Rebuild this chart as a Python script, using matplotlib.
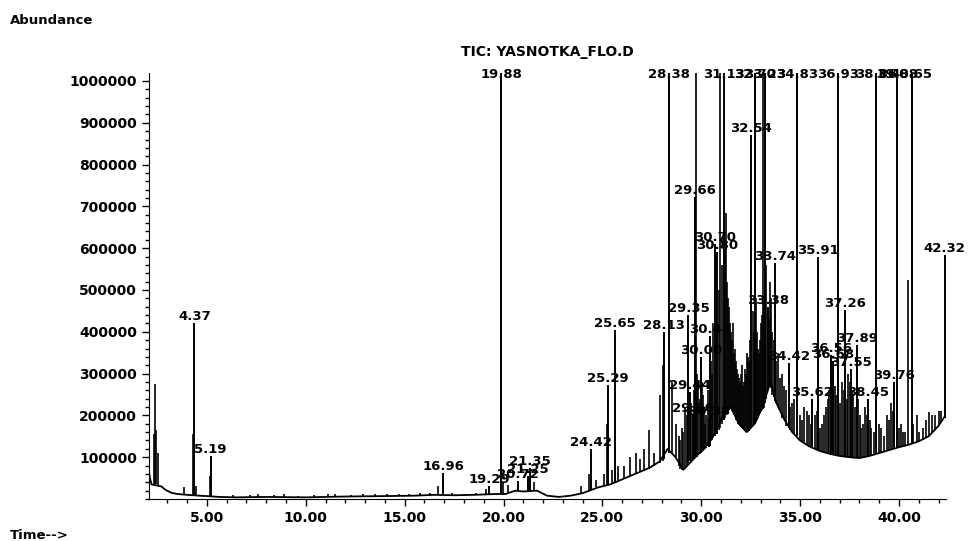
import numpy as np
import matplotlib.pyplot as plt
from matplotlib.ticker import MultipleLocator, FuncFormatter

# baseline / envelope of the TIC trace (time in min, abundance)
base_t = [2.07, 2.12, 2.2, 2.7, 2.9, 3.2, 3.5, 4.0, 4.6, 5.0, 5.6, 6.5, 8.0, 10.0,
          12.0, 14.0, 15.5, 16.5, 17.5, 18.5, 19.6, 20.1, 20.6, 21.0, 21.7, 22.2,
          22.8, 23.4, 24.0, 24.8, 25.4, 25.9, 26.4, 26.9, 27.4, 27.9, 28.3, 28.7,
          29.1, 29.5, 29.9, 30.3, 30.7, 31.1, 31.5, 31.9, 32.3, 32.7, 33.1, 33.5,
          33.8, 34.2, 34.6, 35.0, 35.5, 36.0, 36.5, 37.0, 37.5, 38.0, 38.5, 39.0,
          39.5, 40.0, 40.5, 41.0, 41.5, 42.0, 42.35]
base_y = [65000, 50000, 35000, 30000, 22000, 15000, 12000, 10000, 8000, 7000, 5000,
          4000, 5000, 4000, 6000, 7000, 8000, 10000, 9000, 10000, 12000, 12000,
          20000, 18000, 20000, 8000, 5000, 8000, 14000, 28000, 35000, 45000, 55000,
          65000, 75000, 90000, 120000, 100000, 70000, 90000, 110000, 130000, 160000,
          200000, 220000, 180000, 160000, 180000, 220000, 280000, 230000, 190000,
          160000, 140000, 125000, 115000, 108000, 103000, 100000, 98000, 103000,
          110000, 117000, 124000, 130000, 138000, 150000, 175000, 200000]

# labelled peaks: time, foot, apex (apex above 1e6 is off scale)
lab_t = [4.37, 5.19, 16.96, 19.29, 19.88, 20.72, 21.25, 21.35, 24.42, 25.29, 25.65,
         28.13, 28.38, 29.35, 29.44, 29.56, 29.66, 30.00, 30.38, 30.44, 30.70, 30.80,
         31.13, 32.54, 32.70, 33.23, 33.38, 33.74, 34.42, 34.83, 35.62, 35.91, 36.56,
         36.68, 36.93, 37.26, 37.55, 37.89, 38.45, 38.86, 39.76, 39.88, 40.65, 42.32]
lab_foot = [10000, 7000, 10000, 12000, 12000, 20000, 18000, 18000, 22000, 33000, 40000,
            95000, 110000, 85000, 90000, 95000, 100000, 110000, 125000, 128000, 150000,
            155000, 190000, 175000, 180000, 230000, 260000, 235000, 170000, 150000,
            125000, 117000, 108000, 107000, 104000, 102000, 100000, 99000, 103000,
            108000, 120000, 122000, 132000, 195000]
lab_top = [422000, 103000, 62000, 30000, 1100000, 42000, 55000, 75000, 120000, 273000,
           404000, 400000, 1100000, 440000, 255000, 200000, 723000, 340000, 195000,
           390000, 610000, 590000, 1100000, 870000, 1100000, 1100000, 460000, 565000,
           325000, 1100000, 240000, 580000, 345000, 330000, 1100000, 452000, 310000,
           368000, 240000, 1100000, 280000, 1100000, 1100000, 584000]

# unlabelled peaks
pk_t = [2.30, 2.37, 2.45, 2.52, 3.84, 4.30, 4.45, 5.15, 6.3, 7.2, 7.6, 8.4, 8.9, 9.6,
        10.4, 11.1, 11.5, 12.3, 12.9, 13.5, 14.1, 14.7, 15.2, 15.8, 16.3, 16.70, 17.4,
        18.0, 18.6, 19.10, 19.95, 20.25, 21.55, 23.9, 24.3, 24.7, 25.1, 25.22, 25.5,
        25.8, 26.1, 26.4, 26.7, 26.9, 27.1, 27.35, 27.6, 27.9, 28.05, 28.5, 28.7, 28.9,
        29.05, 29.2, 29.72, 29.85, 30.1, 30.2, 30.55, 30.95, 31.26, 31.35, 31.45,
        31.55, 31.65, 31.75, 31.85, 31.95, 32.05, 32.15, 32.25, 32.35, 32.45, 32.8,
        32.9, 33.0, 33.10, 33.5, 33.6, 33.9, 34.1, 34.3, 34.6, 35.0, 35.2, 35.45,
        35.75, 36.1, 36.3, 36.45, 36.8, 37.1, 37.4, 37.7, 38.05, 38.2, 38.3, 38.6,
        39.1, 39.4, 39.6, 40.1, 40.3, 40.45, 40.9, 41.2, 41.5, 41.8,
        # dense clusters
        28.95, 29.1, 29.28, 29.5, 29.62, 29.78, 29.92, 30.05, 30.15, 30.25, 30.32,
        30.5, 30.62, 30.88, 31.05, 31.2, 31.3, 31.4, 31.5, 31.6, 31.7, 31.8, 31.9,
        32.0, 32.1, 32.2, 32.3, 32.4, 32.6, 32.65, 32.75, 32.85, 32.95, 33.05,
        33.15, 33.3, 33.45, 33.55, 33.68, 33.8, 34.0, 34.2, 34.5, 34.7, 35.1, 35.35,
        35.55, 35.85, 36.0, 36.2, 36.4, 36.62, 36.75, 37.0, 37.2, 37.35, 37.5, 37.62,
        37.8, 37.95, 38.1, 38.4, 38.55, 38.75, 39.0, 39.25, 39.5, 39.7, 40.0, 40.2,
        40.7, 41.0, 41.35, 41.65, 42.0, 42.15]
pk_foot = [35000, 35000, 35000, 30000, 12000, 10000, 10000, 7000, 4000, 4000, 5000,
           5000, 5000, 4000, 4000, 5000, 6000, 6000, 6000, 7000, 7000, 7000, 8000, 8000,
           9000, 10000, 9000, 9000, 10000, 12000, 12000, 15000, 18000, 14000, 20000,
           28000, 30000, 32000, 38000, 42000, 48000, 55000, 60000, 65000, 68000, 72000,
           78000, 85000, 90000, 110000, 100000, 80000, 70000, 75000, 100000, 105000,
           115000, 120000, 140000, 170000, 200000, 210000, 215000, 210000, 200000,
           190000, 180000, 175000, 170000, 165000, 160000, 165000, 170000, 190000,
           200000, 210000, 215000, 270000, 250000, 220000, 195000, 175000, 160000,
           140000, 135000, 128000, 120000, 115000, 112000, 110000, 105000, 103000,
           101000, 100000, 98000, 100000, 101000, 105000, 112000, 116000, 118000,
           125000, 128000, 130000, 137000, 142000, 150000, 165000,
           72000, 70000, 80000, 90000, 95000, 100000, 108000, 112000, 117000, 122000,
           126000, 138000, 145000, 165000, 180000, 195000, 205000, 212000, 218000,
           212000, 205000, 195000, 182000, 172000, 168000, 162000, 160000, 162000,
           175000, 178000, 185000, 195000, 205000, 212000, 218000, 240000, 275000,
           265000, 245000, 230000, 210000, 192000, 165000, 155000, 138000, 130000,
           126000, 118000, 116000, 113000, 110000, 107000, 106000, 103000, 102000,
           101000, 100000, 100000, 99000, 98000, 98000, 102000, 104000, 107000,
           110000, 114000, 117000, 120000, 124000, 127000, 133000, 138000, 145000,
           158000, 175000, 185000]
pk_top = [155000, 275000, 165000, 110000, 28000, 155000, 30000, 55000, 9000, 10000,
          12000, 9000, 11000, 8000, 9000, 12000, 11000, 10000, 12000, 11000, 13000,
          12000, 13000, 15000, 14000, 30000, 14000, 13000, 15000, 25000, 40000, 33000,
          40000, 30000, 60000, 45000, 60000, 180000, 70000, 80000, 80000, 100000,
          110000, 95000, 120000, 165000, 110000, 250000, 320000, 280000, 180000,
          150000, 170000, 220000, 1100000, 280000, 250000, 180000, 300000, 1100000,
          685000, 480000, 420000, 380000, 350000, 330000, 300000, 280000, 320000,
          280000, 300000, 340000, 380000, 400000, 350000, 420000, 1100000, 520000,
          400000, 350000, 300000, 260000, 230000, 200000, 220000, 200000, 200000,
          180000, 220000, 260000, 250000, 280000, 300000, 250000, 200000, 180000,
          220000, 170000, 170000, 200000, 230000, 180000, 160000, 524000, 200000,
          170000, 208000, 200000,
          140000, 160000, 200000, 230000, 260000, 300000, 240000, 280000, 220000,
          200000, 260000, 330000, 420000, 500000, 560000, 600000, 520000, 460000,
          400000, 420000, 360000, 310000, 290000, 300000, 270000, 310000, 350000,
          330000, 450000, 400000, 480000, 360000, 380000, 440000, 470000, 560000,
          430000, 480000, 380000, 330000, 290000, 270000, 220000, 240000, 190000,
          210000, 180000, 210000, 170000, 200000, 240000, 290000, 270000, 230000,
          260000, 240000, 280000, 260000, 220000, 240000, 170000, 200000, 190000,
          160000, 180000, 150000, 190000, 210000, 170000, 160000, 180000, 160000,
          190000, 200000, 210000, 210000]

yticks = list(range(100000, 1000001, 100000))
xticks = [5, 10, 15, 20, 25, 30, 35, 40]

fig = plt.figure(figsize=(9.68, 5.41), dpi=100)
ax = fig.add_axes([0.1539, 0.0776, 0.8234, 0.7874])

ax.plot(base_t, base_y, color='black', lw=1.3)
ax.vlines(pk_t, pk_foot, pk_top, color='black', lw=1.2)
ax.vlines(lab_t, lab_foot, lab_top, color='black', lw=1.4)

for t, h in zip(lab_t, lab_top):
    ax.text(t, min(h, 1000000), f'{t:.2f}', ha='center', va='bottom',
            fontsize=9.5, fontweight='bold', clip_on=False)

ax.set_xlim(2.07, 42.38)
ax.set_ylim(0, 1019000)
ax.set_xticks(xticks)
ax.set_yticks(yticks)
ax.xaxis.set_major_formatter(FuncFormatter(lambda v, p: f'{v:.2f}'))
ax.yaxis.set_major_formatter(FuncFormatter(lambda v, p: f'{int(v)}'))
ax.xaxis.set_minor_locator(MultipleLocator(1))
ax.yaxis.set_minor_locator(MultipleLocator(20000))
ax.tick_params(which='major', length=5, width=1, labelsize=10, direction='out')
ax.tick_params(which='minor', length=3, width=1, direction='out')
for lab in ax.get_xticklabels() + ax.get_yticklabels():
    lab.set_fontweight('bold')

ax.spines['top'].set_visible(False)
ax.spines['right'].set_visible(False)

ax.set_title('TIC: YASNOTKA_FLO.D', fontsize=10, fontweight='bold', pad=12)
fig.text(0.01, 0.963, 'Abundance', fontsize=9.5, fontweight='bold', va='center')
fig.text(0.01, 0.011, 'Time-->', fontsize=9.5, fontweight='bold', va='center')

fig.savefig('out.png', dpi=100)
